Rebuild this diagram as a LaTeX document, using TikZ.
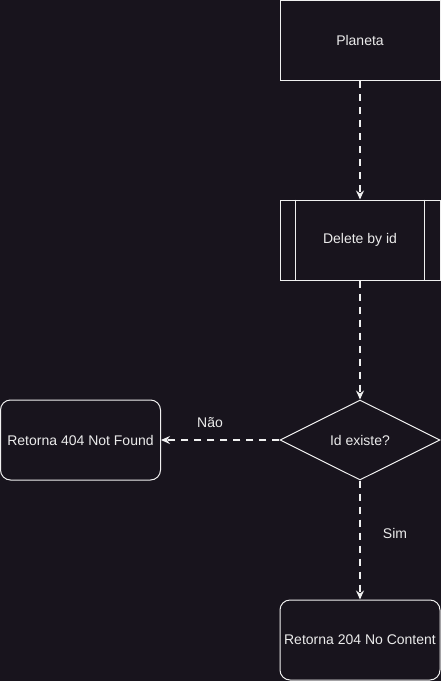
\documentclass[tikz,border=0pt]{standalone}
\usepackage{fontspec}
\setmainfont{Liberation Sans}
\usetikzlibrary{shapes.geometric,arrows.meta}
\definecolor{bg}{HTML}{18141D}
\definecolor{fg}{HTML}{F0F0F0}
\definecolor{txt}{HTML}{EBEBEB}
\begin{document}
\begin{tikzpicture}[x=1pt,y=-1pt,
  box/.style={draw=fg,line width=1pt,fill=bg,minimum width=160pt,minimum height=80pt,inner sep=0pt,text=txt,font=\fontsize{14}{16}\selectfont},
  rbox/.style={box,rounded corners=10pt},
  dia/.style={draw=fg,line width=1pt,fill=bg,diamond,aspect=2,minimum width=160pt,minimum height=80pt,inner sep=0pt,text=txt,font=\fontsize{14}{16}\selectfont},
  conn/.style={draw=fg,line width=1.5pt,dash pattern=on 7pt off 6pt,-{Stealth[length=9pt,width=8pt,inset=3pt]}},
  lbl/.style={text=txt,font=\fontsize{14}{16}\selectfont}]
\fill[bg] (0,0) rectangle (441,681);
\useasboundingbox (0,0) rectangle (441,681);
\node[box] (planeta) at (360,40.5) {Planeta};
\node[box] (delete) at (360,240) {Delete by id};
\draw[fg,line width=1pt] ([xshift=16pt]delete.north west) -- ([xshift=16pt]delete.south west);
\draw[fg,line width=1pt] ([xshift=-16pt]delete.north east) -- ([xshift=-16pt]delete.south east);
\node[dia] (id) at (360,440) {Id existe?};
\node[rbox] (r404) at (80.5,440) {Retorna 404 Not Found};
\node[rbox] (r204) at (360,640) {Retorna 204 No Content};
\draw[conn] (planeta) -- (delete);
\draw[conn] (delete) -- (id);
\draw[conn] (id) -- (r404);
\draw[conn] (id) -- (r204);
\node[lbl] (nao) at (210,423) {Não};
\node[lbl] (sim) at (395,533) {Sim};
\end{tikzpicture}
\end{document}
